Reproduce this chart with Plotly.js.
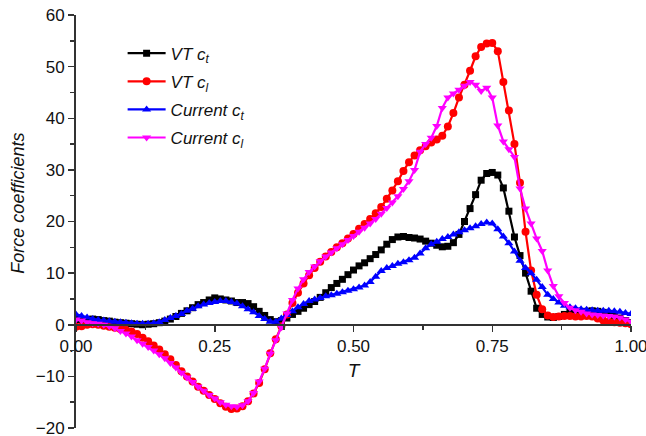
<!DOCTYPE html>
<html>
<head>
<meta charset="utf-8">
<script src="https://cdn.plot.ly/plotly-3.0.1.min.js"></script>
<style>html,body{margin:0;padding:0;background:#fff;}#chart{width:646px;height:436px;}</style>
</head>
<body>
<div id="chart"></div>
<script>
const T = [0,0.01,0.02,0.03,0.04,0.05,0.06,0.07,0.08,0.09,
0.10,0.11,0.12,0.13,0.14,0.15,0.16,0.17,0.18,0.19,
0.20,0.21,0.22,0.23,0.24,0.25,0.26,0.27,0.28,0.29,
0.30,0.31,0.32,0.33,0.34,0.35,0.36,0.37,0.38,0.39,
0.40,0.41,0.42,0.43,0.44,0.45,0.46,0.47,0.48,0.49,
0.50,0.51,0.52,0.53,0.54,0.55,0.56,0.57,0.58,0.59,
0.60,0.61,0.62,0.63,0.64,0.65,0.66,0.67,0.68,0.69,
0.70,0.71,0.72,0.73,0.74,0.75,0.76,0.77,0.78,0.79,
0.80,0.81,0.82,0.83,0.84,0.85,0.86,0.87,0.88,0.89,
0.90,0.91,0.92,0.93,0.94,0.95,0.96,0.97,0.98,0.99,1.00];

const vtCt = [1.0,1.0,1.0,1.1,1.0,0.8,0.7,0.5,0.4,0.3,
0.2,0.1,0.0,0.1,0.2,0.4,0.7,1.1,1.6,2.2,
2.7,3.3,3.9,4.3,4.8,5.2,5.0,4.8,4.6,4.3,
4.3,4.1,3.5,2.6,1.8,1.0,0.6,0.8,1.3,2.0,
2.6,3.2,3.9,4.5,5.3,6.2,7.2,8.0,8.8,9.7,
10.6,11.4,12.0,12.8,13.6,14.5,15.6,16.5,17.0,17.1,
16.9,16.8,16.6,16.2,15.8,15.4,15.1,15.2,15.9,17.5,
20.0,22.5,25.2,28.0,29.3,29.5,29.0,26.5,22.0,17.0,
13.4,10.0,6.5,3.2,2.0,1.5,1.4,1.6,2.0,2.4,
2.5,2.5,2.6,2.7,2.6,2.4,2.2,1.8,1.3,0.8,0.4];

const vtCl = [-0.4,-0.3,0.0,0.1,0.0,-0.2,-0.4,-0.6,-0.8,-1.0,
-1.3,-1.8,-2.5,-3.2,-4.0,-4.8,-5.7,-6.7,-7.8,-9.0,
-10.0,-11.0,-12.0,-12.8,-13.6,-14.4,-15.2,-15.9,-16.3,-16.2,
-15.8,-14.8,-13.3,-11.3,-8.6,-5.5,-2.8,-0.3,2.0,4.2,
6.2,8.0,9.6,11.0,12.2,13.2,14.1,15.0,15.8,16.7,
17.6,18.6,19.5,20.5,21.6,22.8,24.4,26.0,27.8,29.8,
31.5,32.8,33.8,34.6,35.3,35.9,36.6,38.4,41.0,44.0,
46.5,49.2,52.0,53.8,54.5,54.6,53.0,47.0,41.5,35.0,
27.5,18.0,10.5,5.8,3.0,1.8,1.5,1.6,1.7,1.7,
1.6,1.6,1.7,1.6,1.2,0.8,0.6,0.5,0.4,0.3,0.1];

const curCt = [2.0,1.7,1.4,1.1,0.9,0.8,0.7,0.6,0.5,0.4,
0.3,0.2,0.2,0.2,0.3,0.5,0.9,1.3,1.7,2.1,
2.7,3.1,3.6,3.9,4.2,4.4,4.6,4.6,4.4,4.1,
3.6,3.0,2.4,1.7,1.1,0.6,0.6,1.2,1.9,2.6,
3.4,4.0,4.6,4.9,5.2,5.5,5.7,6.0,6.3,6.6,
6.9,7.2,7.6,8.3,9.3,10.4,11.0,11.4,11.8,12.1,
12.5,13.0,13.8,14.8,15.6,16.1,16.6,17.0,17.5,17.9,
18.3,18.7,19.1,19.5,19.8,19.6,18.5,17.1,15.8,14.2,
12.4,11.0,10.0,8.7,7.3,5.8,5.0,4.3,3.7,3.4,
3.2,3.0,2.9,2.8,2.7,2.7,2.7,2.6,2.5,2.3,2.1];

const curCl = [1.0,0.8,0.5,0.3,0.2,0.0,-0.3,-0.7,-1.2,-1.7,
-2.3,-3.0,-3.7,-4.3,-5.0,-5.7,-6.5,-7.4,-8.3,-9.3,
-10.2,-11.1,-12.0,-12.8,-13.6,-14.3,-15.0,-15.5,-15.8,-15.9,
-15.6,-14.8,-13.2,-11.0,-8.5,-5.6,-3.0,-0.5,2.2,4.8,
7.0,8.8,10.2,11.3,12.3,13.2,14.0,14.8,15.6,16.4,
17.2,18.0,18.8,19.6,20.5,21.5,22.6,23.7,24.9,26.3,
27.8,30.0,33.5,35.0,36.2,38.5,42.0,44.0,44.8,45.5,
46.3,47.0,46.5,45.3,45.9,44.0,38.6,35.5,34.0,32.5,
26.4,22.5,19.6,16.7,14.3,10.5,7.5,5.5,4.2,3.3,
2.8,2.5,2.2,2.0,1.9,1.8,1.7,1.6,1.4,1.0,0.6];

const seriesNames = ['<i>VT c<sub>t</sub></i>','<i>VT c<sub>l</sub></i>','<i>Current c<sub>t</sub></i>','<i>Current c<sub>l</sub></i>'];
const seriesValues = [vtCt, vtCl, curCt, curCl];
const colors = ['#000000','#ff0000','#0000ff','#ff00ff'];
const symbols = ['square','circle','triangle-up','triangle-down'];
const sizes = [7,8,8,8];

const traces = seriesValues.map((v,i)=>({
  x: T, y: v, type:'scatter', mode:'lines+markers',
  name: seriesNames[i], legendgroup: 'g'+i,
  line:{color:colors[i], width:2.2},
  marker:{color:colors[i], symbol:symbols[i], size:sizes[i]}
}));

const tickFont = {size:17, family:'Liberation Sans, Arial, sans-serif', color:'#111'};

const layout = {
  width:646, height:436,
  margin:{l:76, r:15, t:15, b:8},
  paper_bgcolor:'#fff', plot_bgcolor:'#fff',
  font:{family:'Liberation Sans, Arial, sans-serif', color:'#111', size:17},
  showlegend:true,
  legend:{x:0.084, y:0.95, xanchor:'left', yanchor:'top', bgcolor:'rgba(0,0,0,0)',
    font:{size:17, family:'Liberation Sans, Arial, sans-serif', color:'#111'}, tracegroupgap:3, itemwidth:38},
  xaxis:{range:[0,1], anchor:'free', position:0.25, showline:true, linecolor:'#333', linewidth:2,
    showgrid:false, zeroline:false, ticks:'outside', ticklen:6, tickwidth:1.5, tickcolor:'#333',
    tickvals:[0,0.25,0.5,0.75,1], tickformat:'.2f', ticklabeloverflow:'allow',
    minor:{tickvals:[0.125,0.375,0.625,0.875], ticks:'outside', ticklen:4, tickcolor:'#333', tickwidth:1.5},
    tickfont:tickFont,
    title:{text:'<i>T</i>', font:{size:19}, standoff:8}},
  yaxis:{range:[-20,60], showline:true, linecolor:'#333', linewidth:2, showgrid:false, zeroline:false,
    ticks:'outside', ticklen:6, tickwidth:1.5, tickcolor:'#333', dtick:10, ticklabeloverflow:'allow',
    minor:{dtick:5, ticks:'outside', ticklen:4, tickcolor:'#333', tickwidth:1.5},
    tickfont:tickFont},
  annotations:[{text:'<i>Force coefficients</i>', xref:'paper', yref:'paper', x:-0.105, y:0.545,
    xanchor:'center', yanchor:'middle', textangle:-90, showarrow:false,
    font:{size:18, family:'Liberation Sans, Arial, sans-serif', color:'#111'}}]
};

Plotly.newPlot('chart', traces, layout, {displayModeBar:false, staticPlot:true});
</script>
</body>
</html>
